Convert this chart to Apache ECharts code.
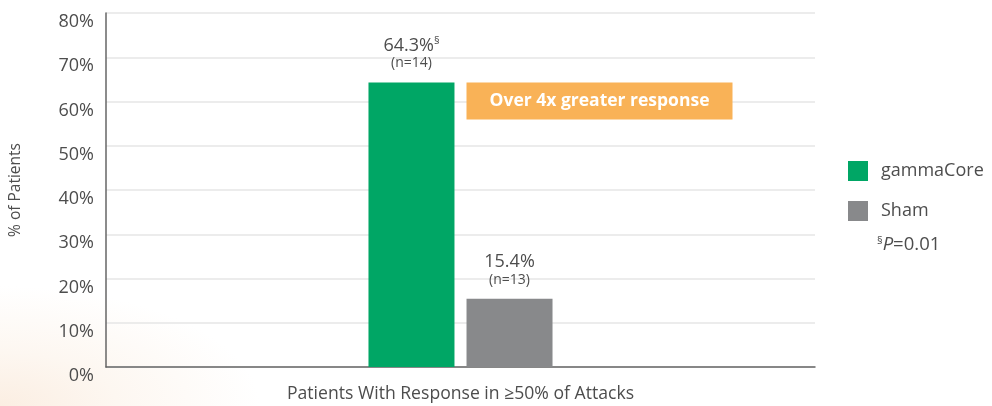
<!DOCTYPE html>
<html><head><meta charset="utf-8">
<script src="https://cdn.jsdelivr.net/npm/echarts@6/dist/echarts.min.js"></script>
<style>
html,body{margin:0;padding:0;background:#fff;}
#c{width:992px;height:406px;background:radial-gradient(ellipse 260px 120px at 0px 406px,#fbeee2 0%,#fdf7f1 45%,rgba(255,255,255,0) 100%);}
</style></head>
<body><div id="c"></div>
<script>
const categories = ['Patients With Response in ≥50% of Attacks'];
const seriesNames = ['gammaCore', 'Sham'];
const gammaCoreValues = [64.3];
const shamValues = [15.4];
const nCounts = { gammaCore: 14, Sham: 13 };
const yTicks = [0, 10, 20, 30, 40, 50, 60, 70, 80];
const calloutText = 'Over 4x greater response';

const FONT = '"Open Sans", "Noto Sans", sans-serif';
const TXT = '#4d4d4d';
const chart = echarts.init(document.getElementById('c'));

function labelFor(name, sup) {
  return {
    show: true, position: 'top', distance: 11,
    formatter: p => '{v|' + p.value + '%}' + (sup ? '{s|§}' : '') + '\n{n|(n=' + nCounts[name] + ')}',
    rich: {
      v: { fontFamily: FONT, fontSize: 18, color: TXT, lineHeight: 20 },
      s: { fontFamily: FONT, fontSize: 11, color: TXT, verticalAlign: 'top', lineHeight: 20, padding: [0,0,8,0] },
      n: { fontFamily: FONT, fontSize: 14, color: TXT, lineHeight: 16 }
    }
  };
}

chart.setOption({
  animation: false,
  grid: { left: 106, right: 177, top: 13, bottom: 39 },
  legend: {
    orient: 'vertical', left: 848, top: 161, padding: 0, itemWidth: 20, itemHeight: 20, itemGap: 20,
    icon: 'rect',
    textStyle: { fontFamily: FONT, fontSize: 18, color: TXT, padding: [0,0,0,8] },
    data: seriesNames
  },
  xAxis: {
    type: 'category', data: categories,
    axisLine: { lineStyle: { color: '#666', width: 1.5 } },
    axisTick: { show: false },
    axisLabel: { show: true, margin: 18, fontFamily: FONT, fontSize: 17.6, color: TXT }
  },
  yAxis: {
    type: 'value', min: 0, max: 80, interval: 10,
    name: '% of Patients', nameLocation: 'middle', nameGap: 82, nameRotate: 90,
    nameTextStyle: { fontFamily: FONT, fontSize: 15.5, color: TXT },
    axisLine: { show: true, lineStyle: { color: '#666', width: 1.5 } },
    axisTick: { show: false },
    axisLabel: { formatter: v => yTicks.includes(v) ? v + '%' : '', margin: 12, verticalAlign: 'top',
                 fontFamily: FONT, fontSize: 18, color: TXT },
    splitLine: { lineStyle: { color: '#e6e6e6', width: 1.5 } }
  },
  series: [
    { name: 'gammaCore', type: 'bar', data: gammaCoreValues, barWidth: 86, barGap: '14%',
      itemStyle: { color: '#00a665' }, label: labelFor('gammaCore', true) },
    { name: 'Sham', type: 'bar', data: shamValues, barWidth: 86,
      itemStyle: { color: '#88898b' }, label: labelFor('Sham', false) }
  ]
});

// callout box anchored to data coordinates (starts at the Sham bar's left edge)
const topPt = chart.convertToPixel({ seriesIndex: 0 }, [0, gammaCoreValues[0]]);
const boxLeft = topPt[0] + 6;
chart.setOption({
  graphic: [
    { type: 'rect', shape: { x: boxLeft, y: topPt[1], width: 266, height: 37 },
      style: { fill: '#f9b257' } },
    { type: 'text', x: boxLeft + 133, y: topPt[1] + 19,
      style: { text: calloutText, fontFamily: FONT, fontSize: 17.5, fontWeight: 'bold', fill: '#fff', align: 'center', verticalAlign: 'middle' } },
    { type: 'text', left: 877, top: 235,
      style: { rich: { s: { fontFamily: FONT, fontSize: 11, fill: TXT, verticalAlign: 'top', padding:[0,0,8,0] },
                       p: { fontFamily: FONT, fontSize: 18.5, fill: TXT, fontStyle: 'italic' },
                       r: { fontFamily: FONT, fontSize: 18.5, fill: TXT } },
               text: '{s|§}{p|P}{r|=0.01}' } }
  ]
});
</script></body></html>
